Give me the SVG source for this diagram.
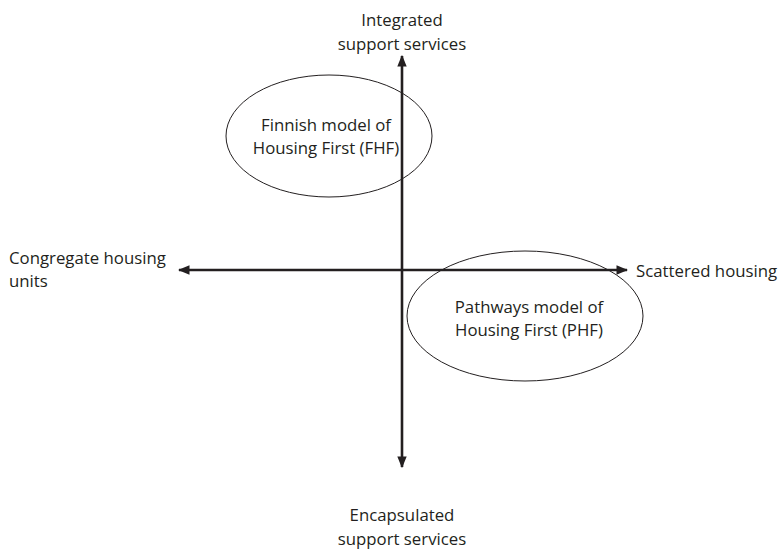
<svg xmlns="http://www.w3.org/2000/svg" width="782" height="550" viewBox="0 0 782 550">
  <style>
    text { font-family: "Open Sans", "Liberation Sans", sans-serif; font-size: 16.8px; fill: #231f20; }
    .mid { text-anchor: middle; }
    .axis { stroke: #231f20; stroke-width: 2.6; fill: none; }
    .oval { stroke: #231f20; stroke-width: 1; fill: none; }
  </style>
  <defs>
    <marker id="arrow" viewBox="0 0 10 10" refX="9" refY="5" markerWidth="4.5" markerHeight="4.5" orient="auto-start-reverse" markerUnits="strokeWidth">
      <path d="M0,1 L10,5 L0,9 Z" fill="#231f20"/>
    </marker>
  </defs>

  <g id="connectors">
    <line class="axis" x1="402" y1="467" x2="402" y2="56" marker-start="url(#arrow)" marker-end="url(#arrow)"/>
    <line class="axis" x1="179" y1="270" x2="627" y2="270" marker-start="url(#arrow)" marker-end="url(#arrow)"/>
  </g>

  <g id="fhf">
    <ellipse class="oval" cx="329" cy="136" rx="103" ry="61"/>
    <text class="mid" x="326" y="131">Finnish model of</text>
    <text class="mid" x="326" y="154">Housing First (FHF)</text>
  </g>

  <g id="phf">
    <ellipse class="oval" cx="525" cy="316" rx="118" ry="65"/>
    <text class="mid" x="529" y="313">Pathways model of</text>
    <text class="mid" x="529" y="336">Housing First (PHF)</text>
  </g>

  <g id="label-top">
    <text class="mid" x="402" y="26">Integrated</text>
    <text class="mid" x="402" y="50">support services</text>
  </g>
  <g id="label-bottom">
    <text class="mid" x="402" y="521">Encapsulated</text>
    <text class="mid" x="402" y="545">support services</text>
  </g>
  <g id="label-left">
    <text x="9" y="264">Congregate housing</text>
    <text x="9" y="287">units</text>
  </g>
  <g id="label-right">
    <text x="636" y="277">Scattered housing</text>
  </g>
</svg>
